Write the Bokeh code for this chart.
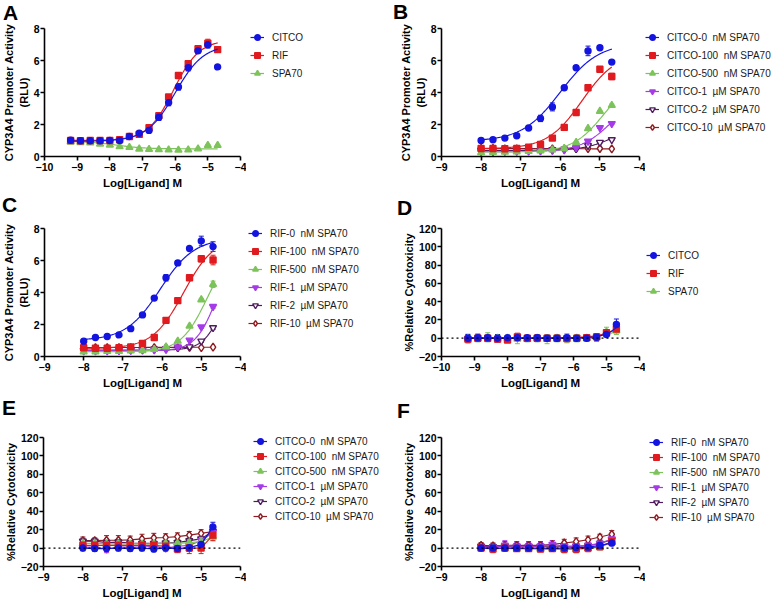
import numpy as np
from bokeh.plotting import figure
from bokeh.models import (Range1d, FixedTicker, Legend, LegendItem, Whisker,
                          ColumnDataSource, Span, TeeHead, Div)
from bokeh.layouts import column, row
from bokeh.embed import file_html
from bokeh.resources import INLINE

FONT = "Liberation Sans"

# ---------------- data ----------------
X16 = [-9.2, -8.9, -8.6, -8.3, -8.0, -7.7, -7.4, -7.1, -6.8, -6.5, -6.2, -5.9, -5.6, -5.3, -5.0, -4.7]
X12 = [-8.0, -7.7, -7.4, -7.1, -6.8, -6.5, -6.2, -5.9, -5.6, -5.3, -5.0, -4.7]

# Panel A : CYP3A4 promoter activity (RLU)
A_LABELS = ["CITCO", "RIF", "SPA70"]
A_CITCO = [1.02, 0.98, 0.98, 0.98, 1.0, 1.0, 1.25, 1.45, 1.63, 2.45, 3.37, 4.35, 5.55, 6.6, 6.98, 5.6]
A_RIF = [1.0, 0.98, 1.0, 1.0, 1.0, 1.05, 1.25, 1.38, 1.8, 2.55, 3.72, 5.06, 5.8, 6.73, 7.08, 6.68]
A_SPA70 = [0.9, 0.88, 0.85, 0.78, 0.72, 0.62, 0.57, 0.47, 0.45, 0.43, 0.42, 0.4, 0.42, 0.48, 0.7, 0.7]
A_CITCO_ERR = [0.08, 0.06, 0.05, 0.05, 0.05, 0.05, 0.08, 0.1, 0.1, 0.2, 0.2, 0.2, 0.2, 0.15, 0.2, 0.15]
A_RIF_ERR = [0.05, 0.05, 0.05, 0.05, 0.05, 0.05, 0.05, 0.08, 0.1, 0.1, 0.1, 0.12, 0.12, 0.12, 0.25, 0.08]
A_SPA70_ERR = [0.04, 0.04, 0.04, 0.04, 0.04, 0.04, 0.04, 0.04, 0.04, 0.04, 0.04, 0.04, 0.04, 0.04, 0.05, 0.05]
A_FIT = [[0.95, 7.0, -6.0, 1.0], [1.0, 7.3, -6.05, 1.1], [0.95, 0.48, -7.8, 1.0]]

# Panel B : CITCO + SPA70
B_LABELS = ["CITCO-0  nM SPA70", "CITCO-100  nM SPA70", "CITCO-500  nM SPA70",
            "CITCO-1  µM SPA70", "CITCO-2  µM SPA70", "CITCO-10  µM SPA70"]
B_0 = [1.0, 1.05, 1.15, 1.3, 1.78, 2.38, 3.1, 4.3, 5.55, 6.6, 6.8, 5.9]
B_100 = [0.5, 0.5, 0.48, 0.5, 0.58, 0.75, 1.15, 1.82, 2.75, 4.3, 5.45, 5.0]
B_500 = [0.25, 0.27, 0.28, 0.3, 0.32, 0.35, 0.42, 0.5, 0.88, 1.75, 2.83, 3.2]
B_1000 = [0.3, 0.3, 0.32, 0.32, 0.33, 0.35, 0.38, 0.42, 0.55, 0.95, 1.8, 2.05]
B_2000 = [0.4, 0.4, 0.4, 0.4, 0.4, 0.4, 0.42, 0.45, 0.5, 0.68, 0.88, 1.05]
B_10000 = [0.5, 0.5, 0.48, 0.48, 0.48, 0.48, 0.48, 0.48, 0.5, 0.5, 0.5, 0.48]
B_ERR = [
    [0.05, 0.05, 0.05, 0.05, 0.08, 0.2, 0.25, 0.1, 0.08, 0.3, 0.1, 0.08],
    [0.03, 0.03, 0.03, 0.03, 0.03, 0.05, 0.05, 0.05, 0.05, 0.05, 0.12, 0.2],
    [0.03, 0.03, 0.03, 0.03, 0.03, 0.03, 0.03, 0.03, 0.05, 0.05, 0.05, 0.08],
    [0.03, 0.03, 0.03, 0.03, 0.03, 0.03, 0.03, 0.03, 0.03, 0.05, 0.05, 0.05],
    [0.03, 0.03, 0.03, 0.03, 0.03, 0.03, 0.03, 0.03, 0.03, 0.05, 0.05, 0.05],
    [0.03, 0.03, 0.03, 0.03, 0.03, 0.03, 0.03, 0.03, 0.03, 0.03, 0.03, 0.03],
]
B_FIT = [[0.95, 7.1, -6.0, 0.9], [0.48, 6.5, -5.45, 1.0], [0.28, 5.0, -4.9, 1.1],
         [0.3, 4.0, -4.7, 1.1], [0.38, 1.9, -4.7, 1.2], [0.5, 0.48, -6.0, 1.0]]

# Panel C : RIF + SPA70
C_LABELS = ["RIF-0  nM SPA70", "RIF-100  nM SPA70", "RIF-500  nM SPA70",
            "RIF-1  µM SPA70", "RIF-2  µM SPA70", "RIF-10  µM SPA70"]
C_0 = [0.96, 1.19, 1.25, 1.35, 1.74, 2.6, 3.65, 4.92, 5.85, 6.75, 7.22, 6.87]
C_100 = [0.55, 0.52, 0.52, 0.55, 0.6, 0.82, 1.19, 2.26, 3.49, 4.92, 6.11, 6.03]
C_500 = [0.3, 0.3, 0.32, 0.33, 0.35, 0.38, 0.45, 0.6, 0.96, 1.9, 3.55, 4.51]
C_1000 = [0.35, 0.35, 0.36, 0.37, 0.38, 0.4, 0.42, 0.45, 0.6, 1.02, 1.85, 3.12]
C_2000 = [0.4, 0.4, 0.42, 0.42, 0.42, 0.44, 0.45, 0.48, 0.55, 0.6, 0.96, 1.8]
C_10000 = [0.58, 0.56, 0.55, 0.56, 0.56, 0.56, 0.56, 0.56, 0.56, 0.57, 0.56, 0.58]
C_ERR = [
    [0.05, 0.05, 0.05, 0.05, 0.05, 0.08, 0.08, 0.2, 0.15, 0.12, 0.3, 0.3],
    [0.03, 0.03, 0.03, 0.03, 0.03, 0.05, 0.05, 0.05, 0.1, 0.08, 0.2, 0.3],
    [0.03, 0.03, 0.03, 0.03, 0.03, 0.03, 0.03, 0.03, 0.05, 0.05, 0.08, 0.2],
    [0.03, 0.03, 0.03, 0.03, 0.03, 0.03, 0.03, 0.03, 0.03, 0.05, 0.08, 0.1],
    [0.03, 0.03, 0.03, 0.03, 0.03, 0.03, 0.03, 0.03, 0.03, 0.05, 0.08, 0.1],
    [0.03, 0.03, 0.03, 0.03, 0.03, 0.03, 0.03, 0.03, 0.03, 0.03, 0.03, 0.03],
]
C_FIT = [[1.0, 7.4, -6.05, 1.0], [0.5, 7.5, -5.45, 1.1], [0.3, 7.0, -4.85, 1.3],
         [0.35, 7.0, -4.6, 1.6], [0.4, 5.0, -4.5, 1.8], [0.56, 0.58, -6.0, 1.0]]

# Panel D : cytotoxicity (%)
D_LABELS = ["CITCO", "RIF", "SPA70"]
D_CITCO = [0, 0.5, 0.5, 0, 0.5, 0.5, 0.5, 0.5, 0, 0, 0.5, 0, 0, 1, 4, 15]
D_RIF = [-1, 0, 0, -1, -2, 1.5, 0, 0, 0, 0, -0.5, 0, 0.5, 1.5, 6, 10]
D_SPA70 = [-0.5, 0, 1, 0, 0, -1, -1, 0, -1, 0, 0, 0, 0, 1, 7, 8]
D_CITCO_ERR = [4, 4, 3, 4, 2, 3, 2, 3, 3, 3, 3, 3, 2, 4, 2, 6]
D_RIF_ERR = [3, 3, 3, 3, 2, 4, 2, 3, 3, 3, 3, 3, 2, 3, 3, 4]
D_SPA70_ERR = [5, 4, 5, 4, 3, 5, 3, 4, 5, 4, 5, 4, 3, 4, 5, 4]
D_FIT = [[0.0, 100.0, -4.07, 1.38], [0.0, 100.0, -3.685, 0.94], [0.0, 100.0, -3.7, 1.06]]

# Panel E : CITCO + SPA70 cytotoxicity
E_LABELS = B_LABELS
E_0 = [0, -0.5, -0.5, 0, -0.5, 0, -1, 0, -0.5, 0.5, 4, 23]
E_100 = [3, 3, 3, 3, 3, 3, 3, 2, -1, 0, 0, 14]
E_500 = [5, 5, 4.5, 4.5, 4.5, 4.5, 4.5, 5, 5, 6, 7, 12]
E_1000 = [1, 1, -1, 1, 1, 1, 2, 0, 2, 3, 8, 17]
E_2000 = [7.5, 7.5, 6, 6.5, 5.5, 5, 5, 5.5, 6, 8, 10, 18]
E_10000 = [8, 8, 8.5, 8.5, 9, 10, 11, 11.5, 12.5, 14, 16, 18]
E_ERR = [
    [3, 3, 3, 3, 3, 3, 3, 3, 3, 4, 4, 5],
    [3, 3, 3, 3, 3, 3, 3, 3, 4, 6, 6, 6],
    [3, 3, 3, 3, 3, 3, 3, 3, 3, 3, 4, 4],
    [3, 3, 4, 3, 3, 3, 3, 3, 3, 3, 3, 4],
    [3, 3, 4, 3, 3, 3, 3, 3, 3, 3, 3, 4],
    [4, 3, 5, 5, 4, 5, 5, 4, 4, 4, 4, 5],
]

# Panel F : RIF + SPA70 cytotoxicity
F_LABELS = C_LABELS
F_0 = [0, 0, 0, 0, 0, 0, 0, 0, 0.5, 1, 3, 5.5]
F_100 = [0, -1, 0, -0.5, -0.5, -1, -0.5, -1, -1, 0, 1.5, 7]
F_500 = [0, 0, -0.5, -0.5, 0, -0.5, -0.5, -1, -1, -0.5, 1, 6]
F_1000 = [1, 1, 3, 2, 2, 2, 4, 2, 2, 3, 5, 10]
F_2000 = [2, 1.5, 2, 2, 2, 2, 2, 2, 2, 2.5, 5, 9]
F_10000 = [3, 2.5, 3, 3, 3, 3, 4, 5.5, 7, 9, 12, 15]
F_ERR = [
    [3, 3, 3, 3, 3, 3, 3, 3, 3, 3, 3, 3],
    [3, 4, 3, 3, 3, 3, 3, 4, 4, 4, 3, 4],
    [3, 3, 3, 3, 3, 3, 3, 4, 4, 3, 3, 3],
    [3, 4, 5, 4, 4, 4, 4, 3, 3, 3, 3, 4],
    [3, 3, 3, 3, 3, 3, 3, 3, 3, 3, 3, 4],
    [3, 3, 4, 4, 4, 4, 4, 4, 4, 4, 3, 4],
]

Y_RLU_TICKS = [0, 2, 4, 6, 8]
Y_CYTO_TICKS = [-20, 0, 20, 40, 60, 80, 100, 120]
Y_RLU_TITLE = "CYP3A4 Promoter Activity\n(RLU)"
Y_CYTO_TITLE = "%Relative Cytotoxicity"
X_TITLE = "Log[Ligand] M"

# ---------------- styles ----------------
COLORS = ["#1414E0", "#E01B1F", "#7DC35B", "#A53BE8", "#4F1B5F", "#8E1C22"]
MARKERS = ["circle", "square", "triangle", "inverted_triangle", "inverted_triangle", "diamond"]
FILLS = ["#1414E0", "#E01B1F", "#7DC35B", "#A53BE8", "white", "white"]
SIZES = [6, 6, 7, 7, 7, 8]

# column geometry (plots in one column share their frame)
W1, LB1, RB1, LW1 = 246, 43, 6, 144     # left column: plot width, borders, legend width
W2, LB2, RB2, LW2 = 255, 51, 6, 132     # right column


def hill(xs, prm):
    b, t, e, h = prm
    xs = np.asarray(xs, dtype=float)
    return b + (t - b) / (1.0 + 10.0 ** ((e - xs) * h))


def make_plot(width, height, lb, rb, tb, bb, xr, yr, yticks, ytitle,
              xs, ys, errs, fits, zero_line):
    p = figure(width=width, height=height, output_backend="svg", toolbar_location=None,
               x_range=Range1d(xr[0], xr[1]), y_range=Range1d(yr[0], yr[1]),
               min_border_left=lb, min_border_right=rb, min_border_top=tb, min_border_bottom=bb)
    p.outline_line_color = None
    p.grid.visible = False
    for ax in (p.xaxis[0], p.yaxis[0]):
        ax.axis_line_width = 1.6
        ax.major_tick_line_width = 1.6
        ax.major_tick_out = 4
        ax.major_tick_in = 0
        ax.minor_tick_out = 0
        ax.minor_tick_in = 0
        ax.major_label_text_font = FONT
        ax.major_label_text_font_style = "bold"
        ax.major_label_text_font_size = "10.5px"
        ax.major_label_text_color = "black"
        ax.axis_label_text_font = FONT
        ax.axis_label_text_font_style = "bold"
        ax.axis_label_text_color = "black"
    p.xaxis[0].major_label_standoff = 2
    p.xaxis[0].axis_label_standoff = 3
    p.yaxis[0].major_label_standoff = 1
    p.yaxis[0].axis_label_standoff = 1
    p.xaxis[0].axis_label_text_font_size = "11.5px"
    p.yaxis[0].axis_label_text_font_size = "11px"
    p.xaxis[0].ticker = FixedTicker(ticks=list(range(xr[0], xr[1] + 1)))
    p.yaxis[0].ticker = FixedTicker(ticks=yticks)
    p.xaxis[0].axis_label = X_TITLE
    p.yaxis[0].axis_label = ytitle

    if zero_line:
        p.add_layout(Span(location=0, dimension="width", line_color="black",
                          line_width=1.3, line_dash="2 3"))

    for i in reversed(range(len(ys))):
        c = COLORS[i]
        if fits is not None:
            cx = np.linspace(min(xs), max(xs), 200)
            p.line(cx, hill(cx, fits[i]), line_color=c, line_width=1.2)
        else:
            p.line(xs, ys[i], line_color=c, line_width=1.2)
        up = [y + e for y, e in zip(ys[i], errs[i])]
        lo = [y - e for y, e in zip(ys[i], errs[i])]
        src = ColumnDataSource(dict(x=xs, y=ys[i], upper=up, lower=lo))
        p.add_layout(Whisker(source=src, base="x", upper="upper", lower="lower",
                             line_color=c, line_width=1,
                             upper_head=TeeHead(size=5, line_color=c, line_width=1),
                             lower_head=TeeHead(size=5, line_color=c, line_width=1)))
        p.scatter("x", "y", source=src, marker=MARKERS[i], size=SIZES[i],
                  line_color=c, fill_color=FILLS[i], line_width=1.4)
    return p


def make_legend(width, height, tb, bb, labels, x_off, top_off, step):
    # the legend's own figure shares the top/bottom borders of its neighbouring plot
    lf = figure(width=width, height=height, output_backend="svg", toolbar_location=None,
                x_range=Range1d(0, 1), y_range=Range1d(0, 1),
                x_axis_type=None, y_axis_type=None,
                min_border_left=0, min_border_right=0, min_border_top=tb, min_border_bottom=bb)
    lf.outline_line_color = None
    lf.grid.visible = False
    items = []
    n = len(labels)
    for i in range(n):
        c = COLORS[i]
        lr = lf.line([5, 6], [5, 5], line_color=c, line_width=1.2)
        sr = lf.scatter([5.5], [5], marker=MARKERS[i], size=SIZES[i],
                        line_color=c, fill_color=FILLS[i], line_width=1.4)
        items.append(LegendItem(label=labels[i], renderers=[lr, sr]))
    gh = 14
    sp = int(round(step - gh))
    leg_h = n * gh + (n - 1) * sp
    fh = height - tb - bb
    top_in_frame = max(0, top_off - tb)
    vy = fh - top_in_frame - leg_h
    lf.add_layout(Legend(items=items, location=(x_off, vy), orientation="vertical",
                         glyph_width=14, glyph_height=gh, label_height=gh, spacing=sp,
                         padding=0, margin=0, border_line_color=None, background_fill_alpha=0,
                         label_text_font=FONT, label_text_font_size="10px",
                         label_text_color="#1a1a1a", label_standoff=8))
    return lf


def letter(text, width, height, top, left):
    html = ('<div style="font-family:\'Liberation Sans\',Arial,sans-serif;font-weight:bold;'
            'font-size:21px;line-height:24px;color:#000;margin:%dpx 0 0 %dpx;">%s</div>'
            % (top, left, text))
    return Div(text=html, width=width, height=height, margin=0)


# rows: 0-191, 191-391, 391-604 ; columns: 0-390, 390-777
# row 1 : letters 0-21, plots 21-191
pA = make_plot(W1, 170, LB1, RB1, 7, 33, (-10, -4), (0, 8), Y_RLU_TICKS, Y_RLU_TITLE,
               X16, [A_CITCO, A_RIF, A_SPA70], [A_CITCO_ERR, A_RIF_ERR, A_SPA70_ERR], A_FIT, False)
lA = make_legend(LW1, 170, 7, 33, A_LABELS, 4, 32 - 21, 17.5)
pB = make_plot(W2, 170, LB2, RB2, 7, 33, (-9, -4), (0, 8), Y_RLU_TICKS, Y_RLU_TITLE,
               X12, [B_0, B_100, B_500, B_1000, B_2000, B_10000], B_ERR, B_FIT, False)
lB = make_legend(LW2, 170, 7, 33, B_LABELS, 0, 32 - 21, 18.4)

# row 2 : letters 191-217, plots 217-391
pC = make_plot(W1, 174, LB1, RB1, 11, 33, (-9, -4), (0, 8), Y_RLU_TICKS, Y_RLU_TITLE,
               X12, [C_0, C_100, C_500, C_1000, C_2000, C_10000], C_ERR, C_FIT, False)
lC = make_legend(LW1, 174, 11, 33, C_LABELS, 2, 228 - 217, 18.3)
pD = make_plot(W2, 174, LB2, RB2, 10, 33, (-10, -4), (-20, 120), Y_CYTO_TICKS, Y_CYTO_TITLE,
               X16, [D_CITCO, D_RIF, D_SPA70], [D_CITCO_ERR, D_RIF_ERR, D_SPA70_ERR], D_FIT, True)
lD = make_legend(LW2, 174, 10, 33, D_LABELS, 1, 250 - 217, 18.0)

# row 3 : letters 391-419, plots 419-604
pE = make_plot(W1, 185, LB1, RB1, 15, 38, (-9, -4), (-20, 120), Y_CYTO_TICKS, Y_CYTO_TITLE,
               X12, [E_0, E_100, E_500, E_1000, E_2000, E_10000], E_ERR, None, True)
lE = make_legend(LW1, 185, 15, 38, E_LABELS, 7, 425 - 419, 15.0)
pF = make_plot(W2, 185, LB2, RB2, 18, 36, (-9, -4), (-20, 120), Y_CYTO_TICKS, Y_CYTO_TITLE,
               X12, [F_0, F_100, F_500, F_1000, F_2000, F_10000], F_ERR, None, True)
lF = make_legend(LW2, 185, 18, 36, F_LABELS, 4, 434 - 419, 14.6)

layout = column(
    row(letter("A", 390, 21, 1, 3), letter("B", 387, 21, 0, 3), spacing=0),
    row(pA, lA, pB, lB, spacing=0),
    row(letter("C", 390, 26, 2, 2), letter("D", 387, 26, 5, 7), spacing=0),
    row(pC, lC, pD, lD, spacing=0),
    row(letter("E", 390, 28, 5, 2), letter("F", 387, 28, 8, 7), spacing=0),
    row(pE, lE, pF, lF, spacing=0),
    spacing=0)

open("out.html", "w").write(file_html(layout, INLINE))
